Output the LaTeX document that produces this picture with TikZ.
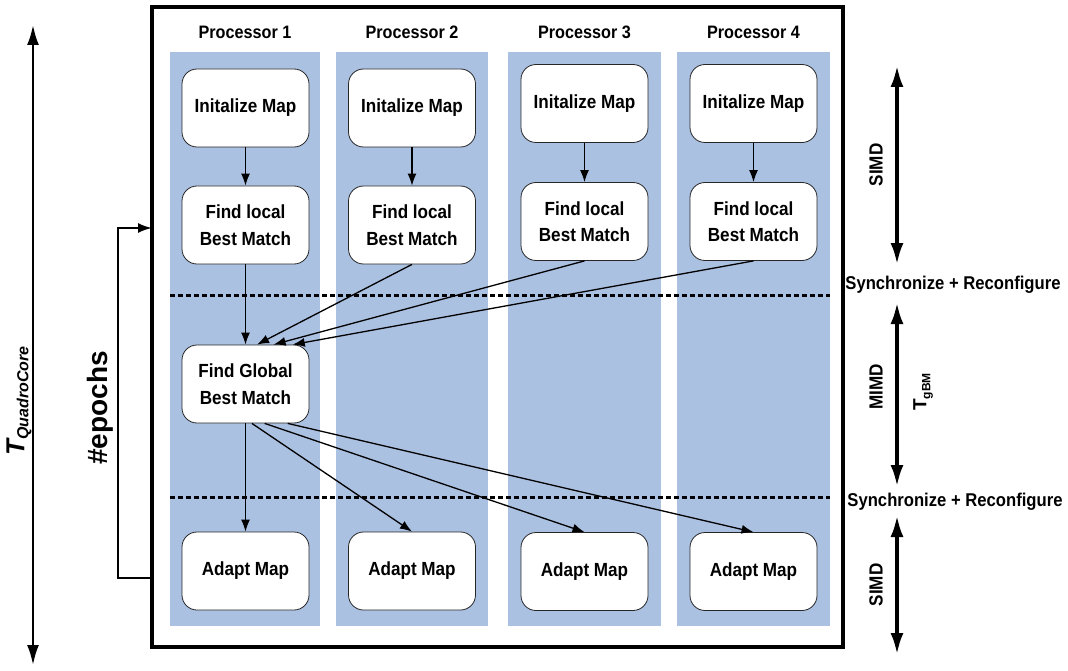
\documentclass[tikz,border=0pt]{standalone}
\usepackage{fontspec}
\setmainfont{Liberation Sans}
\newfontfamily\narrowsf[FakeStretch=0.9]{Liberation Sans}
\usetikzlibrary{arrows.meta,calc}
\definecolor{procblue}{RGB}{171,193,226}

\tikzset{
  stage/.style={draw=black!85, line width=0.8pt, fill=white, rounded corners=15pt,
    minimum width=127pt, minimum height=78pt, align=center,
    font=\narrowsf\bfseries\fontsize{19}{26.5}\selectfont},
  flow/.style={line width=1.3pt, -{Latex[length=12pt,width=9pt]}},
  syncline/.style={line width=3pt, dash pattern=on 5pt off 3pt},
  phasearrow/.style={line width=4pt, {Latex[length=22pt,width=13pt]}-{Latex[length=22pt,width=13pt]}},
  proclabel/.style={font=\narrowsf\bfseries\fontsize{18}{18}\selectfont},
  phaselabel/.style={font=\narrowsf\bfseries\fontsize{19}{19}\selectfont, rotate=90},
  synclabel/.style={font=\narrowsf\bfseries\fontsize{18.5}{18.5}\selectfont},
}

\begin{document}
\begin{tikzpicture}[x=1pt,y=-1pt]
    \useasboundingbox (0,0) rectangle (1068,671);

    % Processor columns
    \fill[procblue] (170,52) rectangle (320,626);
    \fill[procblue] (336,52) rectangle (488,626);
    \fill[procblue] (508,52) rectangle (661,626);
    \fill[procblue] (677,52) rectangle (830,626);
    \node[proclabel] (p1) at (245,32) {Processor 1};
    \node[proclabel] (p2) at (412,32) {Processor 2};
    \node[proclabel] (p3) at (584.5,32) {Processor 3};
    \node[proclabel] (p4) at (753.5,32) {Processor 4};

    % Outer frame
    \draw[line width=3.5pt] (152,7) rectangle (843,647);

    % Synchronisation barriers
    \draw[syncline] (170,295) -- (830,295);
    \draw[syncline] (170,497) -- (830,497);

    % Processor 1
    \node[stage] (init1) at (245.5,108) {Initalize Map};
    \node[stage] (local1) at (245.5,225) {Find local\\Best Match};
    \node[stage] (global) at (245.5,384) {Find Global\\Best Match};
    \node[stage] (adapt1) at (245.5,571) {Adapt Map};

    % Processor 2
    \node[stage] (init2) at (412,108) {Initalize Map};
    \node[stage] (local2) at (412,225) {Find local\\Best Match};
    \node[stage] (adapt2) at (412,571) {Adapt Map};

    % Processor 3
    \node[stage] (init3) at (584.5,103.5) {Initalize Map};
    \node[stage] (local3) at (584.5,221.5) {Find local\\Best Match};
    \node[stage] (adapt3) at (584.5,571.5) {Adapt Map};

    % Processor 4
    \node[stage] (init4) at (753.5,103.5) {Initalize Map};
    \node[stage] (local4) at (753.5,221.5) {Find local\\Best Match};
    \node[stage] (adapt4) at (753.5,571.5) {Adapt Map};

    % Local search
    \draw[flow] (init1) -- (local1);
    \draw[flow] (init2) -- (local2);
    \draw[flow] (init3) -- (local3);
    \draw[flow] (init4) -- (local4);

    % Gather to global best match
    \draw[flow] (local1) -- (global);
    \draw[flow] (local2.south) -- ($(global.north west)!0.59!(global.north east)$);
    \draw[flow] (local3.south) -- ($(global.north west)!0.72!(global.north east)$);
    \draw[flow] (local4.south) -- ($(global.north west)!0.87!(global.north east)$);

    % Broadcast to adaption
    \draw[flow] (global) -- (adapt1);
    \draw[flow] ($(global.south west)!0.55!(global.south east)$) -- (adapt2.north);
    \draw[flow] ($(global.south west)!0.65!(global.south east)$) -- (adapt3.north);
    \draw[flow] ($(global.south west)!0.83!(global.south east)$) -- (adapt4.north);

    % Total time
    \coordinate (tq-top) at (33,25);
    \coordinate (tq-bot) at (33,665);
    \draw[line width=2.5pt, {Latex[length=20pt,width=12pt]}-{Latex[length=20pt,width=12pt]}] (tq-top) -- (tq-bot);
    \node[rotate=90, font=\bfseries\itshape] (tq) at (19,401)
        {\fontsize{26}{26}\selectfont T\raisebox{-4pt}{\fontsize{16}{16}\selectfont QuadroCore}};

    % Epoch loop
    \coordinate (ep-bot) at (152,578);
    \coordinate (ep-top) at (152,228);
    \draw[line width=2pt, -{Latex[length=14pt,width=10pt]}] (ep-bot) -| (118,228) -- (ep-top);
    \node[rotate=90, font=\bfseries\fontsize{28}{28}\selectfont] (epochs) at (100,408) {\#epochs};

    % Phases
    \coordinate (simd1-top) at (897,65);
    \coordinate (simd1-bot) at (897,265);
    \coordinate (mimd-top) at (897,302);
    \coordinate (mimd-bot) at (897,487);
    \coordinate (simd2-top) at (897,515);
    \coordinate (simd2-bot) at (897,655);
    \draw[phasearrow] (simd1-top) -- (simd1-bot);
    \draw[phasearrow] (mimd-top) -- (mimd-bot);
    \draw[phasearrow] (simd2-top) -- (simd2-bot);
    \node[phaselabel] (simd1) at (876,165) {SIMD};
    \node[phaselabel] (mimd) at (876,387) {MIMD};
    \node[phaselabel] (simd2) at (876,585) {SIMD};
    \node[rotate=90, font=\bfseries] (tgbm) at (923,392)
        {\fontsize{19}{19}\selectfont T\raisebox{-4pt}{\fontsize{12}{12}\selectfont gBM}};
    \node[synclabel] (sync1) at (953,285) {Synchronize + Reconfigure};
    \node[synclabel] (sync2) at (955,502) {Synchronize + Reconfigure};

\end{tikzpicture}
\end{document}
